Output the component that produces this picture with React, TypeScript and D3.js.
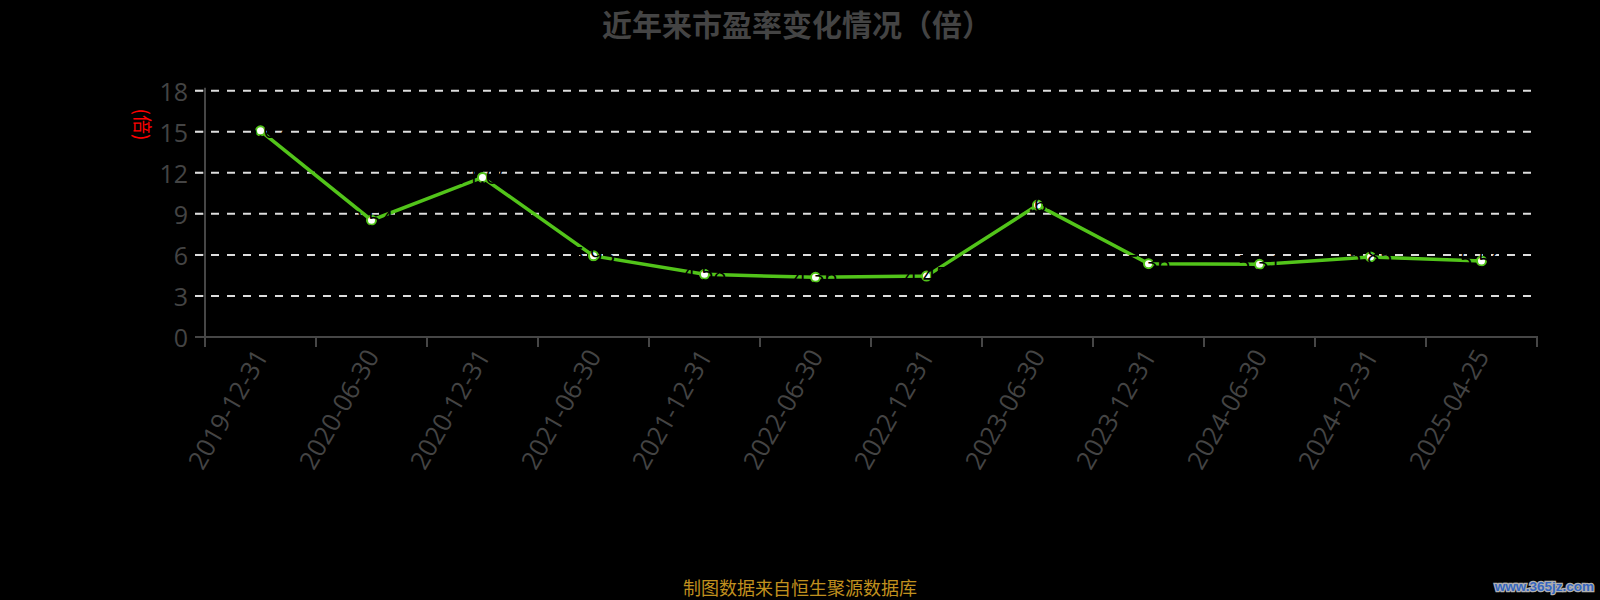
import React from 'react';
import * as d3 from 'd3';

// PE ratio history (times)
const periods = [
    '2019-12-31', '2020-06-30', '2020-12-31', '2021-06-30', '2021-12-31', '2022-06-30',
    '2022-12-31', '2023-06-30', '2023-12-31', '2024-06-30', '2024-12-31', '2025-04-25',
];
const peValues = [15.07, 8.54, 11.66, 5.93, 4.58, 4.36, 4.45, 9.64, 5.36, 5.31, 5.85, 5.56];
const yTicks = [0, 3, 6, 9, 12, 15, 18];

const W = 1600;
const H = 600;
const margin = { left: 205, right: 63, top: 90.7, bottom: 263 };

const axisColor = '#464646';
const lineColor = '#52c41a';
const labelFont = '"Open Sans", "Noto Sans", sans-serif';
const cjkFont = '"Noto Sans CJK SC", "Noto Sans", sans-serif';

const App: React.FC = () => {
    const x = d3.scaleBand<string>()
        .domain(periods)
        .range([margin.left, W - margin.right]);
    const y = d3.scaleLinear()
        .domain([0, 18])
        .range([H - margin.bottom, margin.top]);

    const cx = (p: string) => (x(p) ?? 0) + x.bandwidth() / 2;
    const y0 = y(0);

    const line = d3.line<number>()
        .x((_, i) => cx(periods[i]))
        .y(d => y(d));

    // band boundaries for the category ticks
    const boundaries = periods.map(p => x(p) ?? 0).concat([W - margin.right]);

    return (
        <div style={{ position: 'fixed', left: 0, top: 0, width: W, height: H, background: '#000' }}>
            <svg width={W} height={H} style={{ display: 'block' }}>
                <rect x={0} y={0} width={W} height={H} fill="#000" />

                <text x={797} y={23} textAnchor="middle" dominantBaseline="central"
                    fontFamily={cjkFont} fontWeight="bold" fontSize={30} fill="#444">
                    近年来市盈率变化情况（倍）
                </text>

                {/* y ticks + grid */}
                {yTicks.map(t => (
                    <g key={t}>
                        <line x1={195} x2={margin.left} y1={y(t)} y2={y(t)} stroke={axisColor} strokeWidth={2} />
                        {t > 0 && (
                            <line x1={195} x2={W - margin.right} y1={y(t)} y2={y(t)}
                                stroke="#ddd" strokeWidth={2} strokeDasharray="8,8" />
                        )}
                        <text x={188} y={y(t)} textAnchor="end" dominantBaseline="central"
                            fontFamily={labelFont} fontSize={25} fill="#444">{t}</text>
                    </g>
                ))}

                {/* axes */}
                <line x1={margin.left} x2={margin.left} y1={margin.top - 3} y2={y0} stroke={axisColor} strokeWidth={2} />
                <line x1={margin.left} x2={W - margin.right + 1} y1={y0} y2={y0} stroke={axisColor} strokeWidth={2} />
                {boundaries.map((b, i) => (
                    <line key={i} x1={b} x2={b} y1={y0} y2={y0 + 10} stroke={axisColor} strokeWidth={2} />
                ))}
                {periods.map(p => (
                    <text key={p} transform={`translate(${cx(p)},${y0 + 14}) rotate(-60)`}
                        textAnchor="end" dominantBaseline="central"
                        fontFamily={labelFont} fontSize={25.5} fill="#444">{p}</text>
                ))}

                <text transform="translate(143.5,124.5) rotate(90)" textAnchor="middle" dominantBaseline="central"
                    fontFamily={cjkFont} fontSize={19} fill="#ff0000">(倍)</text>

                {/* series */}
                <path d={line(peValues) ?? ''} fill="none" stroke={lineColor} strokeWidth={3.5} />
                {peValues.map((v, i) => (
                    <circle key={i} cx={cx(periods[i])} cy={y(v)} r={4.5} fill="#fff" stroke={lineColor} strokeWidth={2} />
                ))}
                {peValues.map((v, i) => (
                    <text key={i} x={cx(periods[i])} y={y(v) - 2} textAnchor="middle" dominantBaseline="central"
                        fontFamily={labelFont} fontSize={22} fill="#000">{v.toFixed(2)}</text>
                ))}

                <text x={800} y={587} textAnchor="middle" dominantBaseline="central"
                    fontFamily={cjkFont} fontSize={18} fill="#c0901e">制图数据来自恒生聚源数据库</text>

                <text x={1594} y={586} textAnchor="end" dominantBaseline="central"
                    fontFamily='"Liberation Sans", sans-serif' fontWeight="bold" fontSize={13.5}
                    fill="#3566c0" stroke="#b0b0b0" strokeWidth={2.5} paintOrder="stroke">www.365jz.com</text>
            </svg>
        </div>
    );
};

export default App;
